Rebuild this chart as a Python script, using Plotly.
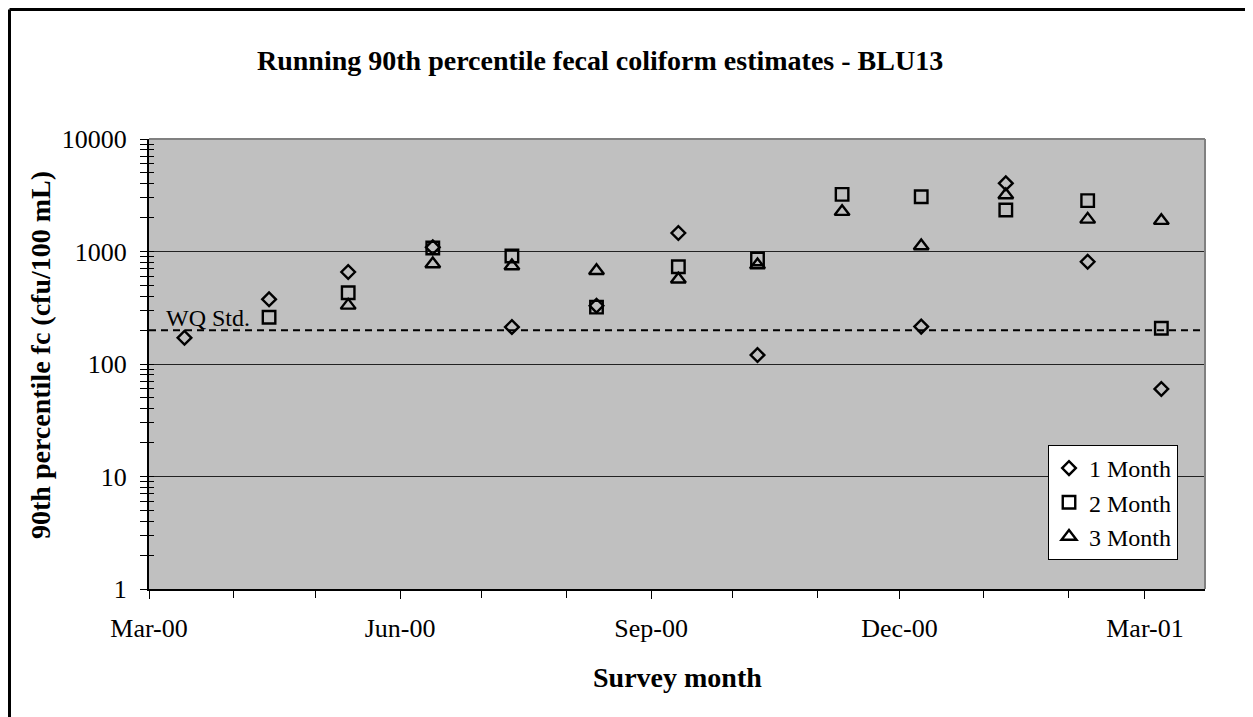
import plotly.graph_objects as go

# ---- data ----
survey_dates = ["2000-03-14", "2000-04-14", "2000-05-13", "2000-06-13", "2000-07-12",
                "2000-08-12", "2000-09-11", "2000-10-10", "2000-11-10", "2000-12-09",
                "2001-01-09", "2001-02-08", "2001-03-07"]
one_month = [171, 376, 657, 1090, 213, 330, 1460, 120, None, 215, 4040, 811, 60]
two_month = [None, 260, 430, 1074, 912, 320, 733, 858, 3220, 3070, 2340, 2830, 208]
three_month = [None, None, 332, 774, 743, 675, 566, 759, 2260, 1120, 3180, 1930, 1880]
series_names = ["1 Month", "2 Month", "3 Month"]
wq_std = 200
x_range = ["2000-03-01", "2001-03-23"]
y_tickvals = [1, 10, 100, 1000, 10000]
y_ticktext = ["1", "10", "100", "1000", "10000"]

FONT = "Liberation Serif, Times New Roman, serif"

fig = go.Figure()

symbols = ["diamond-open", "square-open", "triangle-up-open"]
sizes = [10.5, 12.5, 13]
for name, vals, sym, sz in zip(series_names, [one_month, two_month, three_month], symbols, sizes):
    fig.add_trace(go.Scatter(
        x=survey_dates, y=vals, mode="markers", name=name,
        marker=dict(symbol=sym, size=sz, color="black", line=dict(width=2.4, color="black")),
        hoverinfo="x+y"))

# water-quality standard line (on overlay axis for crossing ticks)
fig.add_trace(go.Scatter(
    x=x_range, y=[wq_std, wq_std], mode="lines", showlegend=False, yaxis="y2",
    line=dict(color="black", width=2, dash="7px,5px"), hoverinfo="skip"))

# page body has an 8px margin; compensate so the chart sits where the reference is
OFF = 8
W, H = 1253 - OFF, 717 - OFF
L, T = 149 - OFF, 139 - OFF
R = W - (1205 - OFF)
B = H - (589 - OFF)
pw, ph = W - L - R, H - T - B

def px_x(p):  # screen px -> paper
    return (p - OFF - L) / pw

def px_y(p):
    return (H - B - (p - OFF)) / ph

axis_font = dict(family=FONT, size=26, color="black")
title_font = dict(family=FONT, size=28, color="black")

fig.update_layout(
    width=W, height=H,
    margin=dict(l=L, r=R, t=T, b=B, pad=0),
    paper_bgcolor="white", plot_bgcolor="#C0C0C0",
    font=dict(family=FONT, color="black"),
    showlegend=True,
    legend=dict(x=px_x(1048), y=px_y(445), xanchor="left", yanchor="top",
                bgcolor="white", bordercolor="black", borderwidth=1,
                font=dict(family=FONT, size=24, color="black"),
                itemwidth=30, tracegroupgap=0),
    xaxis=dict(type="date", range=x_range, tick0="2000-03-01", dtick="M3",
               tickformat="%b-%y", ticks="outside", ticklen=8, tickwidth=1,
               tickcolor="black", showgrid=False, zeroline=False,
               showline=True, linecolor="black", linewidth=2,
               tickfont=axis_font, ticklabelstandoff=7,
               minor=dict(dtick="M1", tick0="2000-03-01", ticks="outside",
                          ticklen=7, tickcolor="black", showgrid=False)),
    yaxis=dict(type="log", range=[0, 4], tickvals=y_tickvals, ticktext=y_ticktext,
               ticks="outside", ticklen=7, tickwidth=1, tickcolor="black",
               showgrid=True, gridcolor="#222222", gridwidth=1,
               zeroline=False, showline=True, linecolor="black", linewidth=2,
               tickfont=axis_font, ticklabelstandoff=8,
               minor=dict(dtick="D1", ticks="outside", ticklen=7,
                          tickcolor="black", showgrid=False)),
    yaxis2=dict(type="log", range=[0, 4], overlaying="y", side="left", anchor="x",
                tickvals=y_tickvals, ticks="inside", ticklen=5, tickcolor="black",
                showticklabels=False, showgrid=False, zeroline=False, showline=False,
                minor=dict(dtick="D1", ticks="inside", ticklen=5,
                           tickcolor="black", showgrid=False)),
)

# plot-area border (gray) on top and right
fig.add_shape(type="line", xref="paper", yref="paper", x0=0, x1=1, y0=1, y1=1,
              line=dict(color="#808080", width=2), layer="above")
fig.add_shape(type="line", xref="paper", yref="paper", x0=1, x1=1, y0=0, y1=1,
              line=dict(color="#808080", width=2), layer="above")
# chart frame: only the left and top edges are inside the picture
fig.add_shape(type="line", xref="paper", yref="paper",
              x0=px_x(9.5), x1=px_x(9.5), y0=px_y(730), y1=px_y(9.5),
              line=dict(color="black", width=3), layer="above")
fig.add_shape(type="line", xref="paper", yref="paper",
              x0=px_x(9.5), x1=px_x(1265), y0=px_y(9.5), y1=px_y(9.5),
              line=dict(color="black", width=3), layer="above")

# titles
fig.add_annotation(text="<b>Running 90th percentile fecal coliform estimates - BLU13</b>",
                   xref="paper", yref="paper", x=px_x(600), y=px_y(60),
                   xanchor="center", yanchor="middle", showarrow=False, font=title_font)
fig.add_annotation(text="<b>Survey month</b>", xref="paper", yref="paper",
                   x=px_x(677), y=px_y(677), xanchor="center", yanchor="middle",
                   showarrow=False, font=title_font)
fig.add_annotation(text="<b>90th percentile fc (cfu/100 mL)</b>", xref="paper", yref="paper",
                   x=px_x(40), y=px_y(355), xanchor="center", yanchor="middle",
                   textangle=-90, showarrow=False, font=title_font)
fig.add_annotation(text="WQ Std.", xref="paper", yref="paper",
                   x=px_x(164), y=px_y(318), xanchor="left", yanchor="middle",
                   showarrow=False, font=dict(family=FONT, size=24, color="black"))

fig.write_html("out.html")
